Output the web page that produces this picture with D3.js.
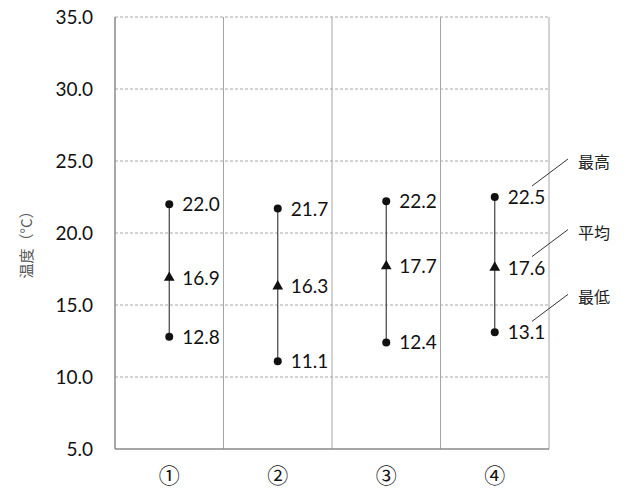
<!DOCTYPE html>
<html><head><meta charset="utf-8">
<script src="https://cdn.jsdelivr.net/npm/d3@7"></script>
<style>body{margin:0;background:#fff}</style>
</head><body>
<svg id="c" width="626" height="491"></svg>
<script>
const categories = ["①","②","③","④"];
const maxVals = [22.0, 21.7, 22.2, 22.5];
const avgVals = [16.9, 16.3, 17.7, 17.6];
const minVals = [12.8, 11.1, 12.4, 13.1];
const yTicks = [5, 10, 15, 20, 25, 30, 35];
const legendLabels = ["最高", "平均", "最低"];
const yTitle = "温度（°C）";

const svg = d3.select("#c");
const L = 115, R = 549, T = 17, B = 449;
const x = d3.scaleBand().domain(categories).range([L, R]).padding(0);
const y = d3.scaleLinear().domain([5, 35]).range([B, T]);
const font = "Lato, 'Noto Sans', sans-serif";
const cjk = "'Noto Sans CJK JP', sans-serif";

// gridlines
svg.append("g").selectAll("line").data(yTicks.filter(d => d > 5)).join("line")
  .attr("x1", L).attr("x2", R).attr("y1", d => y(d)).attr("y2", d => y(d))
  .attr("stroke", "#a6a6a6").attr("stroke-dasharray", "3,2").attr("stroke-width", 1);

// category dividers
const divX = categories.slice(1).map(c => x(c)).concat([R]);
svg.append("g").selectAll("line").data(divX).join("line")
  .attr("x1", d => d).attr("x2", d => d).attr("y1", T).attr("y2", B)
  .attr("stroke", "#a6a6a6").attr("stroke-width", 1);

// axes lines
svg.append("line").attr("x1", L).attr("x2", L).attr("y1", T).attr("y2", B).attr("stroke", "#898989").attr("stroke-width", 1.5);
svg.append("line").attr("x1", L).attr("x2", R).attr("y1", B).attr("y2", B).attr("stroke", "#898989").attr("stroke-width", 1.5);

// y tick labels
const yAxis = d3.axisLeft(y).tickValues(yTicks).tickFormat(d3.format(".1f")).tickSize(0).tickPadding(22);
const ya = svg.append("g").attr("transform", `translate(${L},0)`).call(yAxis);
ya.select(".domain").remove();
ya.selectAll("text").attr("font-family", font).attr("font-size", 19).attr("fill", "#111");

// x labels
const xAxis = d3.axisBottom(x).tickSize(0);
const xa = svg.append("g").attr("transform", `translate(0,${B})`).call(xAxis);
xa.select(".domain").remove();
xa.selectAll("text").attr("y", 25).attr("dy", null).attr("dominant-baseline", "central")
  .attr("font-family", cjk).attr("font-size", 21).attr("fill", "#111");

// y title
svg.append("text").attr("transform", "translate(25,241) rotate(-90)")
  .attr("text-anchor", "middle").attr("dominant-baseline", "central").attr("font-family", cjk)
  .attr("font-size", 15).attr("fill", "#595959").text(yTitle);

// range lines
const data = categories.map((c, i) => ({c, max: maxVals[i], avg: avgVals[i], min: minVals[i]}));
const cx = d => x(d.c) + x.bandwidth() / 2;
const g = svg.append("g");
g.selectAll("line.rng").data(data).enter().append("line")
  .attr("x1", cx).attr("x2", cx).attr("y1", d => y(d.max)).attr("y2", d => y(d.min))
  .attr("stroke", "#404040").attr("stroke-width", 1.2);
["max", "min"].forEach(k => {
  g.selectAll("circle." + k).data(data).enter().append("circle").attr("class", k)
    .attr("cx", cx).attr("cy", d => y(d[k])).attr("r", 4).attr("fill", "#111");
});
g.selectAll("path.tri").data(data).enter().append("path")
  .attr("transform", d => `translate(${cx(d)},${y(d.avg)})`)
  .attr("d", d3.symbol(d3.symbolTriangle, 50)).attr("fill", "#111");

// value labels
["max", "avg", "min"].forEach(k => {
  g.selectAll("text." + k).data(data).enter().append("text").attr("class", k)
    .attr("x", d => cx(d) + 13).attr("y", d => y(d[k]) + 7)
    .attr("font-family", font).attr("font-size", 19).attr("fill", "#111")
    .text(d => d[k].toFixed(1));
});

// legend callouts
const legendVals = [maxVals[3], avgVals[3], minVals[3]];
const lg = svg.append("g");
legendLabels.forEach((t, i) => {
  const yy = y(legendVals[i]);
  lg.append("line").attr("x1", 532).attr("y1", yy - 11).attr("x2", 568).attr("y2", yy - 38)
    .attr("stroke", "#333").attr("stroke-width", 1);
  lg.append("text").attr("x", 578).attr("y", yy - 29)
    .attr("font-family", cjk).attr("font-size", 16).attr("fill", "#222").text(t);
});
</script>
</body></html>
